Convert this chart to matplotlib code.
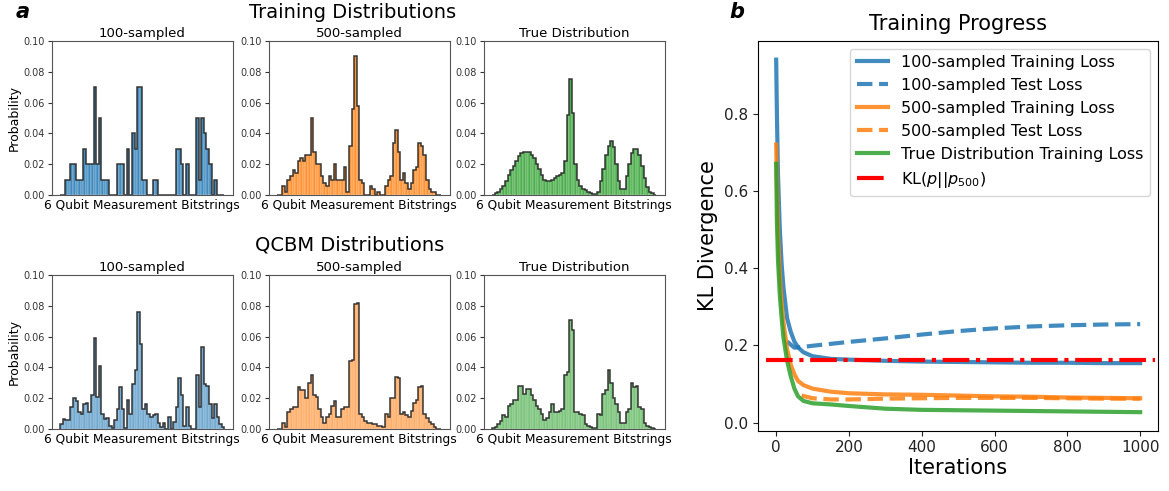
import numpy as np
import matplotlib
matplotlib.use('Agg')
import matplotlib.pyplot as plt

###############################################################################
# histogram data, 64 bins (6 qubit bitstrings)

train_100 = [0, 0, .01, .01, .02, .02, .01, .01, .01, .03, .02, .02, .02, .07, .02, .05,
             .01, .01, .01, 0, 0, 0, .02, .02, .02, 0, .03, 0, .04, .03, .07, .07,
             .01, .01, 0, 0, .01, .01, 0, 0, 0, 0, 0, 0, 0, .03, .03, .02,
             0, .02, 0, 0, 0, .05, .01, .05, .04, .03, .02, 0, .01, 0, 0, 0]

train_500 = [0, 0, .006, .002, .010, .012, .016, .014, .022, .024, .022, .026, .026, .050, .028, .020,
             .020, .012, .008, .006, .012, .010, .020, .010, .010, .010, .018, .002, .032, .056, .090, .058,
             .010, .008, 0, 0, .006, .004, 0, .002, 0, 0, .006, .010, .012, .034, .042, .028,
             .010, .014, .008, .004, .008, .016, .018, .034, .032, .026, .010, .004, .002, .002, 0, 0]

train_true = [.0003, .001, .002, .004, .006, .009, .013, .016, .019, .022, .025, .027, .028, .028, .028, .026,
              .024, .020, .017, .013, .010, .009, .009, .010, .011, .012, .013, .014, .022, .052, .075, .053,
              .020, .010, .006, .004, .003, .002, .001, .0005, .0005, .002, .009, .017, .026, .032, .035, .031,
              .020, .009, .004, .004, .012, .020, .027, .030, .030, .026, .019, .011, .005, .002, .001, .0003]

qcbm_100 = [.0035, .0067, .006, .006, .014, .020, .0185, .011, .010, .016, .017, .011, .022, .059, .021, .041,
            .010, .0067, .007, .0017, .0005, .006, .013, .027, .013, .0005, .019, .010, .029, .038, .076, .055,
            .013, .016, .010, .008, .009, .010, .004, .001, .004, 0, .008, 0, .0045, .014, .033, .022,
            .002, .014, .002, 0, 0, .035, .014, .053, .029, .028, .016, .007, .016, .008, .003, .001]

qcbm_500 = [0, 0, .004, .001, .011, .013, .014, .014, .027, .025, .025, .020, .030, .035, .022, .021,
            .013, .008, .004, .008, .010, .015, .018, .008, .008, .013, .014, .014, .044, .045, .081, .082,
            .010, .008, .005, .004, .004, .003, .003, .002, .002, .001, .010, .008, .020, .020, .034, .033,
            .010, .011, .009, .008, .012, .017, .019, .027, .028, .010, .007, .0045, .003, .0013, .0003, 0]

qcbm_true = [.0005, .001, .003, .005, .009, .008, .015, .016, .019, .019, .028, .028, .023, .026, .026, .022,
             .019, .015, .013, .010, .006, .007, .011, .016, .011, .011, .012, .013, .035, .037, .071, .064,
             .011, .011, .010, .009, .003, .002, .001, .0005, .0005, .010, .009, .023, .025, .038, .030, .020,
             .016, .011, .004, .004, .011, .013, .030, .027, .028, .014, .013, .004, .002, .001, .0005, 0]

###############################################################################
# training curves

it_train = [0, 2, 5, 10, 15, 20, 30, 40, 50, 60, 75, 100, 150, 200, 300, 400, 500, 600, 700, 800, 900, 1000]
loss_100 = [0.94, 0.80, 0.64, 0.50, 0.41, 0.35, 0.27, 0.235, 0.21, 0.195, 0.182, 0.172, 0.165, 0.163,
            0.160, 0.158, 0.157, 0.156, 0.155, 0.155, 0.154, 0.154]
loss_500 = [0.72, 0.62, 0.49, 0.38, 0.31, 0.26, 0.19, 0.15, 0.125, 0.108, 0.097, 0.088, 0.080, 0.076,
            0.073, 0.072, 0.070, 0.068, 0.067, 0.065, 0.064, 0.063]
loss_true = [0.67, 0.52, 0.42, 0.33, 0.27, 0.22, 0.16, 0.12, 0.088, 0.068, 0.056, 0.050, 0.047, 0.043,
             0.036, 0.033, 0.032, 0.031, 0.030, 0.029, 0.028, 0.027]

it_test100 = [30, 50, 75, 100, 150, 200, 300, 400, 500, 600, 700, 800, 900, 1000]
test_100 = [0.21, 0.194, 0.196, 0.199, 0.204, 0.209, 0.218, 0.228, 0.237, 0.244, 0.249, 0.252, 0.254, 0.255]
it_test500 = [70, 100, 150, 200, 300, 400, 500, 600, 700, 800, 900, 1000]
test_500 = [0.070, 0.063, 0.060, 0.060, 0.062, 0.063, 0.064, 0.064, 0.064, 0.063, 0.062, 0.062]

kl_500 = 0.161

###############################################################################

blue = '#1f77b4'
orange = '#ff7f0e'
green = '#2ca02c'

fig = plt.figure(figsize=(11.69, 4.91), dpi=100)

W = 0.1545
xs = [0.0445, 0.2301, 0.4140]
rows = [(0.6029, [train_100, train_500, train_true], 0.85),
        (0.1263, [qcbm_100, qcbm_500, qcbm_true], 0.62)]
subtitles = ['100-sampled', '500-sampled', 'True Distribution']
colors = [blue, orange, green]

bins = np.arange(64)
edges = np.arange(65) - 0.5
for bottom, hists, alpha in rows:
    for j in range(3):
        ax = fig.add_axes([xs[j], bottom, W, 0.3136])
        vals = np.array(hists[j])
        ax.bar(bins, vals, width=1.0, color=colors[j], alpha=alpha,
               edgecolor='white', linewidth=0.25)
        ax.stairs(vals, edges, color='#222222', linewidth=1.1, alpha=0.9)
        ax.set_ylim(0, 0.1)
        ax.set_yticks([0, 0.02, 0.04, 0.06, 0.08, 0.10])
        ax.set_xticks([])
        ax.tick_params(axis='y', labelsize=7, length=3, width=0.8, pad=2, colors='#333333')
        for s in ax.spines.values():
            s.set_color('#555555')
        ax.set_title(subtitles[j], fontsize=9.5, pad=3)
        ax.set_xlabel('6 Qubit Measurement Bitstrings', fontsize=8.8, labelpad=3)
        if j == 0:
            ax.set_ylabel('Probability', fontsize=9, labelpad=2)

fig.text(0.302, 0.974, 'Training Distributions', fontsize=14, ha='center', va='center')
fig.text(0.299, 0.502, 'QCBM Distributions', fontsize=14, ha='center', va='center')
fig.text(0.013, 0.975, 'a', fontsize=15, fontweight='bold', fontstyle='italic', va='center')
fig.text(0.624, 0.975, 'b', fontsize=15, fontweight='bold', fontstyle='italic', va='center')

# training progress
ax = fig.add_axes([0.6484, 0.1228, 0.3422, 0.7943])
ax.plot(it_train, loss_100, color=blue, lw=3, alpha=0.85, label='100-sampled Training Loss')
ax.plot(it_test100, test_100, color=blue, lw=3, ls='--', alpha=0.85, label='100-sampled Test Loss')
ax.plot(it_train, loss_500, color=orange, lw=3, alpha=0.85, label='500-sampled Training Loss')
ax.plot(it_test500, test_500, color=orange, lw=3, ls='--', alpha=0.85, label='500-sampled Test Loss')
ax.plot(it_train, loss_true, color=green, lw=3, alpha=0.85, label='True Distribution Training Loss')
ax.axhline(kl_500, xmin=0.021, xmax=0.993, color='red', lw=3, ls='-.', label=r'KL($p||p_{500}$)')
ax.set_xlim(-50, 1049)
ax.set_ylim(-0.021, 0.989)
ax.set_xticks([0, 200, 400, 600, 800, 1000])
ax.set_yticks([0.0, 0.2, 0.4, 0.6, 0.8])
ax.tick_params(labelsize=11, colors='#222222')
ax.set_title('Training Progress', fontsize=15, pad=8)
ax.set_xlabel('Iterations', fontsize=15, labelpad=2)
ax.set_ylabel('KL Divergence', fontsize=15)
ax.legend(loc='upper right', fontsize=11.5)

fig.savefig('out.png', dpi=100)
